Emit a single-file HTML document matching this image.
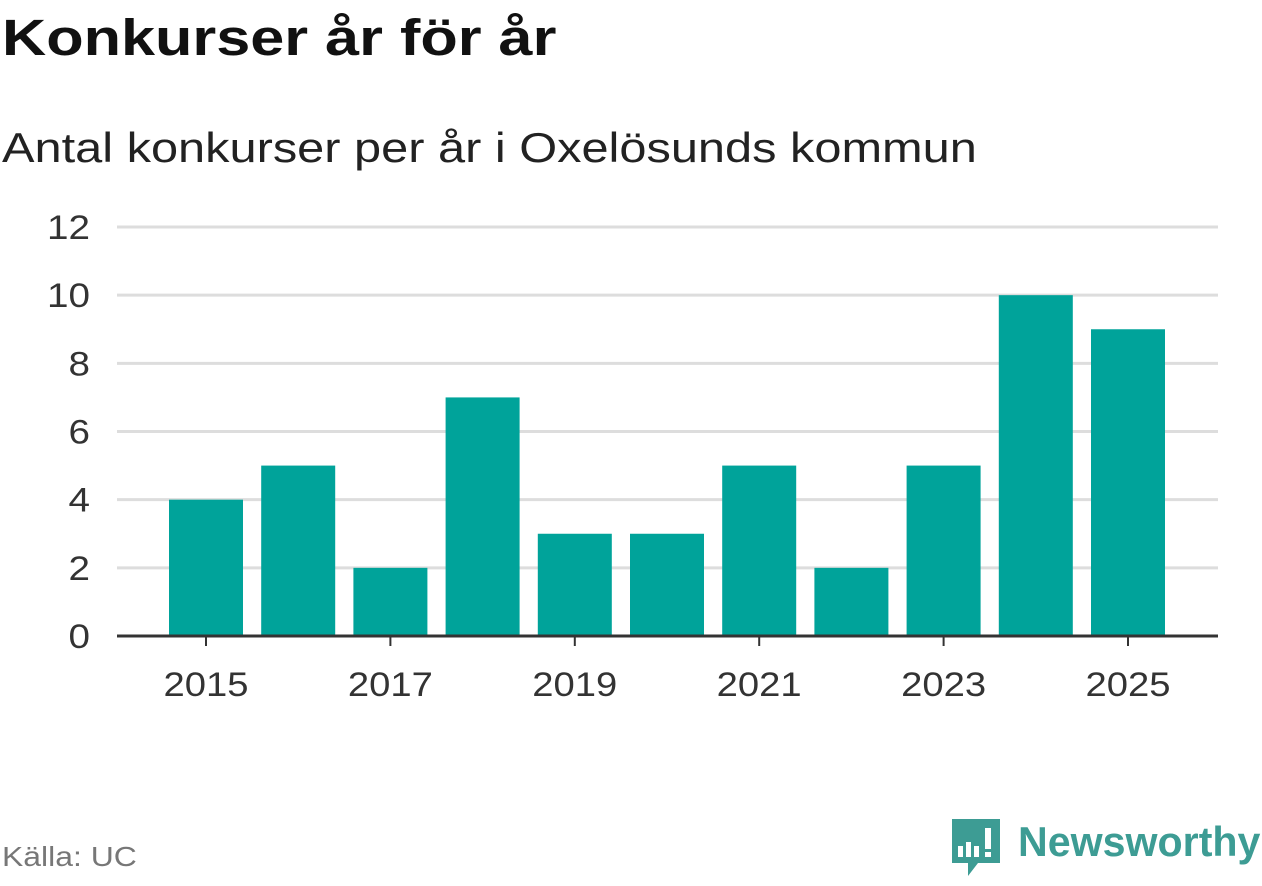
<!DOCTYPE html>
<html><head><meta charset="utf-8"><style>
body{margin:0;width:1262px;height:879px;background:#fff;font-family:"Liberation Sans",sans-serif;overflow:hidden;position:relative}
.t{position:absolute;white-space:nowrap;transform-origin:0 0}
</style></head><body>
<div class="t" style="left:2px;top:8px;font-size:51px;font-weight:bold;color:#111;transform:scaleX(1.2)">Konkurser år för år</div>
<div class="t" style="left:2px;top:124px;font-size:42px;color:#222;transform:scaleX(1.16)">Antal konkurser per år i Oxelösunds kommun</div>
<svg id="c" width="1262" height="879" style="position:absolute;left:0;top:0"></svg>
<div class="t" style="left:2px;top:841px;font-size:28px;color:#777;transform:scaleX(1.14)">Källa: UC</div>
<svg width="60" height="70" style="position:absolute;left:948px;top:816px">
<path d="M4 3h48v44H30l-10 13V47H4z" fill="#3d9c94"/>
<rect x="10" y="30" width="5" height="11" fill="#fff"/><rect x="18" y="26" width="5" height="15" fill="#fff"/><rect x="26" y="30" width="5" height="11" fill="#fff"/><rect x="37" y="12" width="6" height="21" fill="#fff"/><rect x="37" y="36" width="6" height="5" fill="#fff"/>
</svg>
<div class="t" style="left:1018px;top:818px;font-size:42px;font-weight:bold;color:#3d9c94;transform:scaleX(0.98)">Newsworthy</div>
<script>
const years=[2015,2016,2017,2018,2019,2020,2021,2022,2023,2024,2025];
const values=[4,5,2,7,3,3,5,2,5,10,9];
const yTicks=[0,2,4,6,8,10,12];
const xLabels=[2015,2017,2019,2021,2023,2025];
const svg=document.getElementById('c');const NS='http://www.w3.org/2000/svg';
const y0=636,yTop=227,yMax=12,x0=206,step=92.2,bw=74;
const y=v=>y0-(v/yMax)*(y0-yTop);
const x=yr=>x0+(yr-years[0])*step;
function mk(t,a){const e=document.createElementNS(NS,t);for(const k in a)e.setAttribute(k,a[k]);svg.appendChild(e);return e;}
yTicks.forEach(v=>{
 if(v>0){const g=mk('line',{x1:117,x2:1218,y1:y(v),y2:y(v),stroke:'#ddd','stroke-width':3});
 
 }
 const s=String(v);
 const t=mk('text',{x:90,y:y(v)+12,'text-anchor':'end','font-size':34,fill:'#333','font-family':'Liberation Sans, sans-serif',textLength:s.length*21.5,lengthAdjust:'spacingAndGlyphs'});t.textContent=s;
 
 
});
years.forEach((yr,i)=>{
 const r=mk('rect',{x:x(yr)-bw/2,y:y(values[i]),width:bw,height:y0-y(values[i]),fill:'#00a39a'});
 
 
});
const ax=mk('line',{x1:117,x2:1218,y1:y0,y2:y0,stroke:'#333','stroke-width':3});


xLabels.forEach(yr=>{
 const tk=mk('line',{x1:x(yr),x2:x(yr),y1:y0,y2:y0+10,stroke:'#333','stroke-width':2});
 
 
 const t=mk('text',{x:x(yr),y:696,'text-anchor':'middle','font-size':34,fill:'#333','font-family':'Liberation Sans, sans-serif',textLength:85,lengthAdjust:'spacingAndGlyphs'});t.textContent=yr;
 
 
});
</script>
</body></html>
